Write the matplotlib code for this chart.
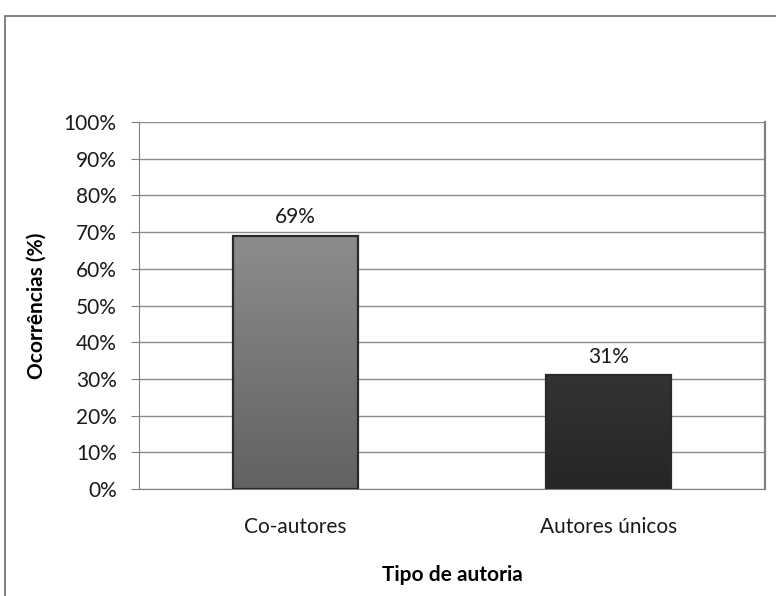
import numpy as np
import matplotlib.pyplot as plt
from matplotlib.colors import to_rgb
from matplotlib.patches import Rectangle

# data
categorias = ['Co-autores', 'Autores únicos']
ocorrencias = [69, 31]
cores_topo = ['#8c8c8c', '#333333']
cores_base = ['#626262', '#262626']
yticks = list(range(0, 101, 10))

plt.rcParams['font.family'] = ['Lato', 'DejaVu Sans']
fs = 15

fig = plt.figure(figsize=(7.76, 5.96), dpi=100)
ax = fig.add_axes([0.1791, 0.1795, 0.8067, 0.6158])

x = np.arange(len(categorias))
bars = ax.bar(x, ocorrencias, width=0.4, color=cores_base, linewidth=0, zorder=3)

# vertical gradient inside each bar, roughly like the Excel bevel
for b, c1, c2 in zip(bars, cores_topo, cores_base):
    x0, w, h = b.get_x(), b.get_width(), b.get_height()
    t = np.linspace(0, 1, 64)[:, None]
    img = (np.array(to_rgb(c1)) * (1 - t) + np.array(to_rgb(c2)) * t)[:, None, :].repeat(2, axis=1)
    im = ax.imshow(img, extent=[x0, x0 + w, 0, h], aspect='auto', zorder=4, origin='upper')
    im.set_clip_path(b)
    ax.add_patch(Rectangle((x0, 0), w, h, fill=False, edgecolor='#2a2a2a',
                           linewidth=1.6, zorder=5))
    ax.annotate(f'{h:.0f}%', (x0 + w / 2, h), xytext=(0, 6), textcoords='offset points',
                ha='center', va='bottom', fontsize=fs, color='#1a1a1a')

ax.set_xlim(-0.5, len(categorias) - 0.5)
ax.set_ylim(0, 100)
ax.set_yticks(yticks)
ax.set_yticklabels([f'{v}%' for v in yticks], fontsize=fs, color='#1a1a1a')
ax.set_xticks(x)
ax.set_xticklabels(categorias, fontsize=fs, color='#1a1a1a')
ax.tick_params(axis='x', length=0, pad=20)
ax.tick_params(axis='y', length=6, color='#808080', pad=10)
ax.grid(axis='y', color='#8c8c8c', linewidth=1, zorder=0)
ax.set_axisbelow(True)
for s in ['left', 'bottom', 'right']:
    ax.spines[s].set_color('#808080')
ax.spines['right'].set_linewidth(1.6)
ax.spines['top'].set_visible(False)

ax.set_ylabel('Ocorrências (%)', fontsize=fs, fontweight='bold', labelpad=12)
ax.set_xlabel('Tipo de autoria', fontsize=fs, fontweight='bold', labelpad=20)

# outer border of the chart area
fig.add_artist(Rectangle((5 / 776, -0.01), 1.0, 1 - 16 / 596 + 0.01,
                         transform=fig.transFigure, fill=False,
                         edgecolor='#6a6a6a', linewidth=1.2))

fig.savefig('out.png', dpi=100)
